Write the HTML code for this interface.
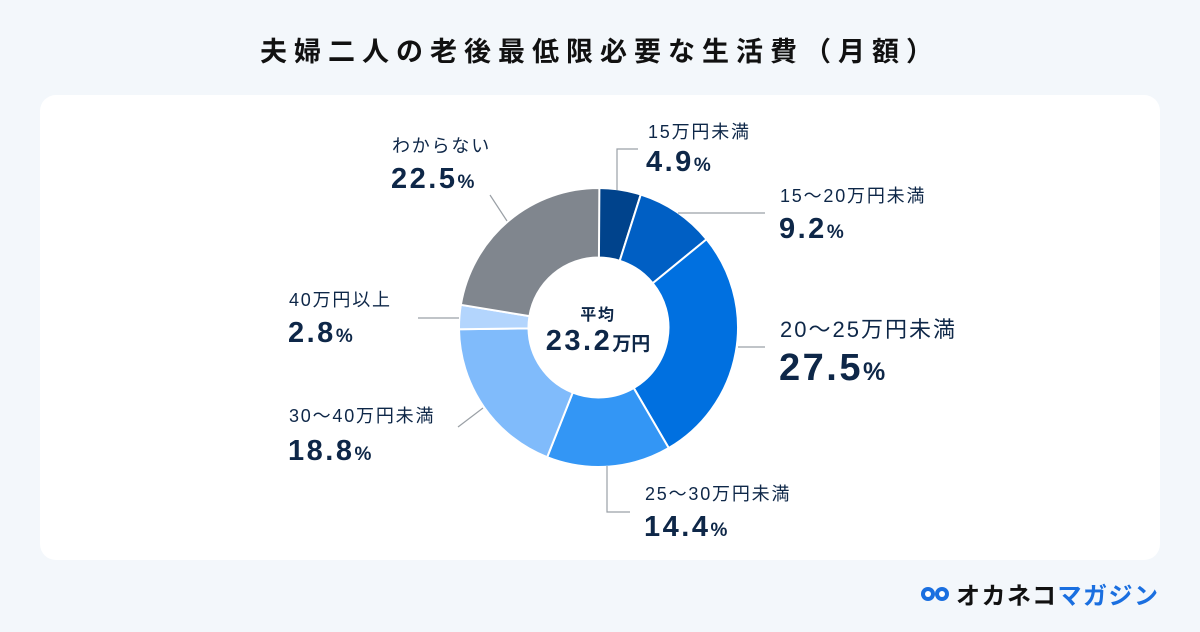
<!DOCTYPE html>
<html><head><meta charset="utf-8"><style>
body{margin:0;width:1200px;height:632px;background:#f3f7fb;font-family:"Liberation Sans","Noto Sans CJK JP",sans-serif;overflow:hidden;position:relative}
.card{position:absolute;left:40px;top:95px;width:1120px;height:465px;background:#fff;border-radius:16px}
svg{position:absolute;left:0;top:0}
.l{letter-spacing:1.8px}
.n{letter-spacing:2.5px}
</style></head><body>
<div class="card"></div>
<svg width="1200" height="632" viewBox="0 0 1200 632" id="s">
<text x="600" y="61" text-anchor="middle" font-size="27" font-weight="bold" fill="#111" font-family="Liberation Sans,Noto Sans CJK JP,sans-serif" letter-spacing="7">夫婦二人の老後最低限必要な生活費（月額）</text>
<g id="pie"></g>
<g stroke="#9aa0a6" stroke-width="1.2" fill="none">
<polyline points="617,190 617,149 638,149"/>
<line x1="678" y1="213" x2="765" y2="213"/>
<line x1="738" y1="347" x2="765" y2="347"/>
<polyline points="607,466 607,512 630,512"/>
<line x1="483" y1="408" x2="458" y2="427"/>
<line x1="418" y1="318" x2="459" y2="318"/>
<line x1="490" y1="195" x2="507" y2="221"/>
</g>
<g fill="#0e2748" font-family="Liberation Sans,Noto Sans CJK JP,sans-serif">
<text x="598" y="320" text-anchor="middle" font-size="16" font-weight="bold" class="l">平均</text>
<text x="598" y="350" text-anchor="middle" font-weight="bold" class="n"><tspan font-size="29">23.2</tspan><tspan font-size="19" letter-spacing="0">万円</tspan></text>

<text x="648" y="138" font-size="18" class="l">15万円未満</text>
<text x="646" y="171" font-weight="bold" class="n"><tspan font-size="29">4.9</tspan><tspan font-size="19">%</tspan></text>
<text x="780" y="202" font-size="18" class="l">15～20万円未満</text>
<text x="779" y="238" font-weight="bold" class="n"><tspan font-size="29">9.2</tspan><tspan font-size="19">%</tspan></text>
<text x="780" y="337" font-size="22" letter-spacing="2">20～25万円未満</text>
<text x="779" y="380" font-weight="bold" class="n"><tspan font-size="38">27.5</tspan><tspan font-size="25">%</tspan></text>
<text x="645" y="500" font-size="18" class="l">25～30万円未満</text>
<text x="644" y="536" font-weight="bold" class="n"><tspan font-size="29">14.4</tspan><tspan font-size="19">%</tspan></text>
<text x="289" y="422" font-size="18" class="l">30～40万円未満</text>
<text x="288" y="460" font-weight="bold" class="n"><tspan font-size="29">18.8</tspan><tspan font-size="19">%</tspan></text>
<text x="289" y="306" font-size="18" class="l">40万円以上</text>
<text x="288" y="342" font-weight="bold" class="n"><tspan font-size="29">2.8</tspan><tspan font-size="19">%</tspan></text>
<text x="392" y="152" font-size="18" class="l">わからない</text>
<text x="391" y="188" font-weight="bold" class="n"><tspan font-size="29">22.5</tspan><tspan font-size="19">%</tspan></text>
</g>
<g transform="translate(920,582)">
<circle cx="8" cy="12" r="7" fill="#1a6fe0"/><circle cx="22" cy="12" r="7" fill="#1a6fe0"/>
<circle cx="8" cy="12" r="3" fill="#fff"/><circle cx="22" cy="12" r="3" fill="#fff"/>
<text x="36" y="22" font-size="24" font-weight="bold" fill="#111" letter-spacing="1.5" font-family="Liberation Sans,Noto Sans CJK JP,sans-serif">オカネコ<tspan fill="#1a6fe0">マガジン</tspan></text>
</g>
</svg>
<script>
var d=[4.9,9.2,27.5,14.4,18.8,2.8,22.5],c=["#00438c","#005fc4","#0070e0","#3396f5","#80bbfb","#b3d5fd","#80868e"];
var cx=598.5,cy=327.5,R=139.5,r=70,a=0,g=document.getElementById("pie"),h="";
function p(rad,t){t=t/100*2*Math.PI;return [cx+rad*Math.sin(t),cy-rad*Math.cos(t)];}
for(var i=0;i<d.length;i++){var b=a+d[i],l=d[i]>50?1:0,o1=p(R,a),o2=p(R,b),i2=p(r,b),i1=p(r,a);
h+='<path d="M'+o1+' A'+R+','+R+' 0 '+l+' 1 '+o2+' L'+i2+' A'+r+','+r+' 0 '+l+' 0 '+i1+' Z" fill="'+c[i]+'" stroke="#fff" stroke-width="2"/>';a=b;}
g.innerHTML=h;
</script>
</body></html>
